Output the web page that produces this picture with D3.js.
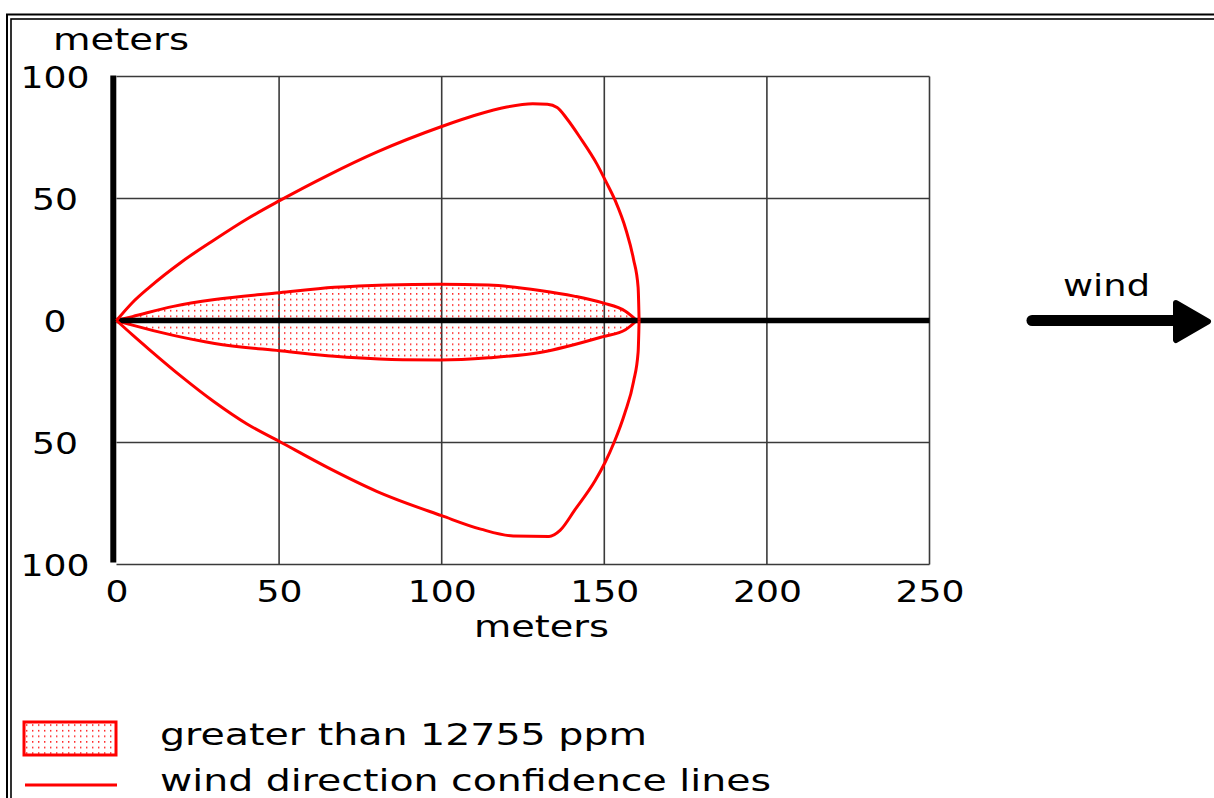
<!DOCTYPE html>
<html><head><meta charset="utf-8">
<script src="https://cdn.jsdelivr.net/npm/d3@7"></script>
<style>html,body{margin:0;padding:0;background:#fff;overflow:hidden}</style>
</head><body>
<svg id="c" width="1214" height="798"></svg>
<script>
// ---- data ----
const xTicks = [0, 50, 100, 150, 200, 250];
const yTicks = [100, 50, 0, -50, -100];
const yTickLabels = ["100", "50", "0", "50", "100"];

// threat zone (> 12755 ppm), upper and lower edges, meters
const threatUpper = [[0,0],[4.9,1.6],[17.5,5.8],[30.2,8.6],[50.2,11.4],[67,13.6],[82.8,14.6],[99.6,14.9],[114.4,14.5],[130.2,12.3],[140.7,10.0],[149.6,7.2],[156.5,3.8],[160,0]];
const threatLower = [[0,0],[4.9,-1.9],[17.5,-6.1],[30.2,-9.4],[50.2,-12.4],[72.3,-15.2],[88,-16.1],[99.6,-16.2],[114.4,-15.3],[130.2,-13.1],[149.6,-6.6],[156.5,-3.8],[160,0]];

// wind direction confidence lines
const confUpper = [[0,0],[5,7.5],[10,13.5],[20,24],[30,33],[40,41.5],[50,49],[65,59.5],[80,69],[100,79.5],[110,84],[120,87.5],[128,88.8],[132.5,88.6],[135.5,87.3],[138.5,82.7],[142.5,75.1],[147.7,64.2],[150.4,57.2],[153.4,49],[156.7,37],[159,25],[160.4,13.6],[160.7,0]];
const confLower = [[0,0],[5,-6],[10,-11.8],[20,-23],[30,-33.3],[40,-42.3],[50,-49.5],[65,-60.3],[80,-70],[100,-80],[112,-85.5],[122,-88.3],[133,-88.5],[136.4,-86],[141,-77.5],[147.2,-65.6],[150.3,-58],[153,-50],[156.3,-38],[159,-25],[160.4,-13],[160.7,0]];

const legendLabels = ["greater than 12755 ppm", "wind direction confidence lines"];
const axisTitle = "meters";
const windLabel = "wind";

// ---- drawing ----
const svg = d3.select("#c");
const FONT = "'DejaVu Sans', Verdana, sans-serif";
const RED = "#ff0000";

const x = d3.scaleLinear().domain([0, 250]).range([116.5, 929.5]);
const y = d3.scaleLinear().domain([-100, 100]).range([564.5, 76.5]);

// frame (double line)
svg.append("rect").attr("x", 7).attr("y", 14.5).attr("width", 1300).attr("height", 900)
  .attr("fill", "none").attr("stroke", "#000").attr("stroke-width", 2);
svg.append("rect").attr("x", 11).attr("y", 19).attr("width", 1300).attr("height", 900)
  .attr("fill", "none").attr("stroke", "#000").attr("stroke-width", 1.6);

const defs = svg.append("defs");
const pat = defs.append("pattern").attr("id", "dots").attr("patternUnits", "userSpaceOnUse")
  .attr("width", 6).attr("height", 5.6);
pat.append("rect").attr("x", 2).attr("y", 2).attr("width", 1.4).attr("height", 1.4).attr("fill", RED);

// grid
const grid = svg.append("g").attr("stroke", "#3a3a3a").attr("stroke-width", 1.6);
xTicks.filter(d => d > 0).forEach(d => {
  grid.append("line").attr("x1", x(d)).attr("x2", x(d)).attr("y1", y(100)).attr("y2", y(-100));
});
yTicks.filter(d => d !== 0).forEach(d => {
  grid.append("line").attr("x1", x(0)).attr("x2", x(250)).attr("y1", y(d)).attr("y2", y(d));
});

const curve = d3.curveMonotoneX;
const line = d3.line().x(d => x(d[0])).y(d => y(d[1])).curve(curve);
const area = d3.area().x(d => x(d[0])).y0(y(0)).y1(d => y(d[1])).curve(curve);

// threat zone fill + outline
[threatUpper, threatLower].forEach(edge => {
  svg.append("path").attr("d", area(edge)).attr("fill", "url(#dots)").attr("stroke", "none");
});
[threatUpper, threatLower].forEach(edge => {
  svg.append("path").attr("d", line(edge)).attr("fill", "none")
    .attr("stroke", RED).attr("stroke-width", 3).attr("stroke-linejoin", "round");
});

// thick axes
svg.append("line").attr("x1", x(0)).attr("x2", x(250)).attr("y1", y(0)).attr("y2", y(0))
  .attr("stroke", "#000").attr("stroke-width", 5.5);
svg.append("line").attr("x1", x(0) - 3.2).attr("x2", x(0) - 3.2).attr("y1", y(100) - 1).attr("y2", y(-100) - 2)
  .attr("stroke", "#000").attr("stroke-width", 6);

// confidence lines
[confUpper, confLower].forEach(edge => {
  svg.append("path").attr("d", line(edge)).attr("fill", "none")
    .attr("stroke", RED).attr("stroke-width", 3).attr("stroke-linejoin", "round");
});

// x axis labels
const DIGIT_W = 23;
const xAxis = svg.append("g").attr("transform", "translate(0,602)")
  .call(d3.axisBottom(x).tickValues(xTicks).tickSize(0).tickFormat(d3.format("d")));
xAxis.select(".domain").remove();
xAxis.selectAll("text").attr("y", 0).attr("dy", 0)
  .attr("font-family", FONT).attr("font-size", 30).attr("fill", "#000")
  .attr("textLength", function() { return this.textContent.length * DIGIT_W; })
  .attr("lengthAdjust", "spacingAndGlyphs");

// y axis labels
const yAxis = svg.append("g").attr("transform", "translate(55,0)")
  .call(d3.axisLeft(y).tickValues(yTicks).tickSize(0).tickFormat((d, i) => yTickLabels[i]));
yAxis.select(".domain").remove();
yAxis.selectAll("text").attr("x", 0).attr("dy", 0).attr("y", 11).attr("text-anchor", "middle")
  .attr("font-family", FONT).attr("font-size", 30).attr("fill", "#000")
  .attr("textLength", function() { return this.textContent.length * DIGIT_W; })
  .attr("lengthAdjust", "spacingAndGlyphs");

function label(txt, xx, yy, w, anchor) {
  svg.append("text").attr("x", xx).attr("y", yy).text(txt)
    .attr("font-family", FONT).attr("font-size", 30).attr("fill", "#000")
    .attr("text-anchor", anchor || "start")
    .attr("textLength", w).attr("lengthAdjust", "spacingAndGlyphs");
}
label(axisTitle, 53, 50, 136);
label(axisTitle, 474, 637, 135);
label(windLabel, 1063, 296, 87);

// wind arrow
svg.append("line").attr("x1", 1032).attr("x2", 1178).attr("y1", 320.5).attr("y2", 320.5)
  .attr("stroke", "#000").attr("stroke-width", 11).attr("stroke-linecap", "round");
svg.append("path").attr("d", "M1176,303 L1208,321.5 L1176,340 Z")
  .attr("fill", "#000").attr("stroke", "#000").attr("stroke-width", 6).attr("stroke-linejoin", "round");

// legend
svg.append("rect").attr("x", 24).attr("y", 722).attr("width", 92).attr("height", 33)
  .attr("fill", "url(#dots)").attr("stroke", RED).attr("stroke-width", 3);
svg.append("line").attr("x1", 25).attr("x2", 117).attr("y1", 785).attr("y2", 785)
  .attr("stroke", RED).attr("stroke-width", 3);
label(legendLabels[0], 160, 745, 487);
label(legendLabels[1], 160, 791, 611);
</script>
</body></html>
